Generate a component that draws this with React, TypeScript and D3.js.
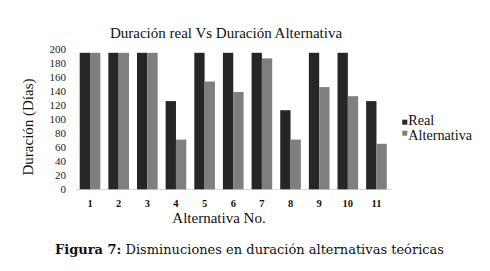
import React from "react";
import * as d3 from "d3";

const categories = ["1", "2", "3", "4", "5", "6", "7", "8", "9", "10", "11"];
const realValues = [195, 195, 195, 126, 195, 195, 195, 113, 195, 195, 126];
const altValues = [195, 195, 195, 71, 154, 139, 187, 71, 146, 133, 65];
const yTicks = [0, 20, 40, 60, 80, 100, 120, 140, 160, 180, 200];
const seriesNames = ["Real", "Alternativa"];
const colors = ["#262626", "#7f7f7f"];

export default function App() {
  const W = 490, H = 271;
  const x = d3.scaleBand<string>().domain(categories).range([75.7, 390.8]).paddingInner(0.28).paddingOuter(0.14);
  const y = d3.scaleLinear().domain([0, 200]).range([189.3, 49.3]);
  const inner = d3.scaleBand<number>().domain([0, 1]).range([0, x.bandwidth()]);
  const font = "'Liberation Serif', 'Times New Roman', serif";
  const capFont = "'DejaVu Serif', serif";
  return (
    <svg width={W} height={H} style={{ position: "absolute", left: 0, top: 0, background: "#fff", fontFamily: font }}>
      <text x={226} y={38} textAnchor="middle" fontSize={15} fill="#111" style={{ fontFamily: font }}>Duración real Vs Duración Alternativa</text>
      {yTicks.map((t) => (
        <text key={t} x={66} y={y(t)} dy="0.35em" textAnchor="end" fontSize={11} fill="#222" style={{ fontFamily: font }}>{t}</text>
      ))}
      <line x1={76} x2={391.5} y1={189.5} y2={189.5} stroke="#d9d9d9" strokeWidth={1} />
      {categories.map((c, i) => (
        <g key={c}>
          {[realValues[i], altValues[i]].map((v, s) => (
            <rect key={s} x={(x(c) as number) + (inner(s) as number)} y={y(v)} width={inner.bandwidth()} height={y(0) - y(v)} fill={colors[s]} />
          ))}
          <text x={(x(c) as number) + x.bandwidth() / 2} y={207} textAnchor="middle" fontSize={10.5} fontWeight="bold" fill="#111" style={{ fontFamily: font }}>{c}</text>
        </g>
      ))}
      <text x={219} y={223} textAnchor="middle" fontSize={15} fill="#111" style={{ fontFamily: font }}>Alternativa No.</text>
      <text transform="translate(33,127) rotate(-90)" textAnchor="middle" fontSize={15} fill="#111" style={{ fontFamily: font }}>Duración (Días)</text>
      {seriesNames.map((n, i) => (
        <g key={n}>
          <rect x={402.3} y={119.7 + i * 11} width={5} height={5} fill={colors[i]} />
          <text x={408.3} y={124.8 + i * 14.8} fontSize={14.2} fill="#111" style={{ fontFamily: font }}>{n}</text>
        </g>
      ))}
      <text x={55} y={254} fontSize={13} fill="#111" style={{ fontFamily: capFont }}>
        <tspan fontWeight="bold">Figura 7:</tspan>
        <tspan> Disminuciones en duración alternativas teóricas</tspan>
      </text>
    </svg>
  );
}
